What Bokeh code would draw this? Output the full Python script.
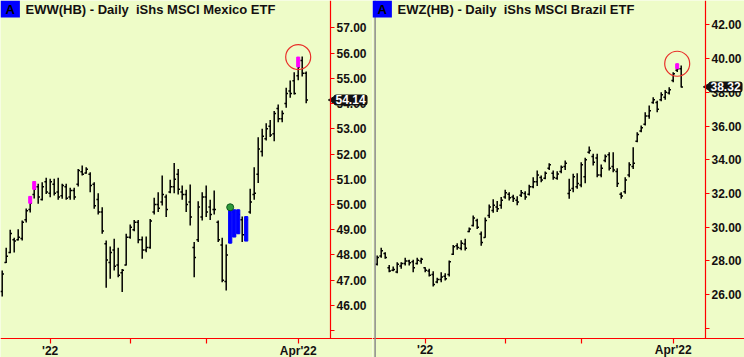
import math
from bokeh.plotting import figure
from bokeh.models import Range1d, FixedTicker, NumeralTickFormatter, Label, Span
from bokeh.layouts import row
from bokeh.embed import file_html
from bokeh.resources import INLINE

# ---------------- data ----------------
x_tick_positions = [12, 32, 51, 74]
x_tick_labels = ["'22", "", "", "Apr'22"]

eww_title = "EWW(HB) - Daily \u00a0iShs MSCI Mexico ETF"
eww_open = [46.55, 47.70, 48.10, 48.60, 48.60, 48.65, 49.40, 49.80, 50.40, 50.70,
            50.20, 50.90, 50.45, 50.80, 50.50, 50.35, 50.70, 50.30, 50.55, 50.80,
            51.30, 51.25, 51.20, 50.80, 50.20, 49.70, 48.45, 47.70, 48.20, 47.60,
            47.30, 47.60, 48.70, 49.00, 49.30, 48.60, 48.20, 48.30, 49.70, 50.00,
            50.10, 50.30, 50.50, 50.70, 51.20, 50.50, 50.40, 50.10, 48.30, 48.60,
            49.50, 50.30, 49.90, 49.80, 49.30, 48.40, 46.95, 48.50, 49.70, 48.90,
            49.40, 48.60, 49.70, 50.40, 51.20, 52.10, 52.60, 53.10, 52.80, 53.80,
            53.40, 54.00, 54.50, 54.90, 55.10, 55.70, 55.20]
eww_high = [47.39, 48.29, 49.00, 48.68, 49.02, 49.37, 49.84, 50.32, 50.91, 50.82,
            50.88, 51.06, 51.02, 51.02, 51.06, 50.82, 50.82, 50.66, 50.66, 51.41,
            51.54, 51.48, 51.28, 50.88, 50.45, 49.89, 48.57, 48.34, 48.64, 48.29,
            47.45, 48.84, 49.21, 49.39, 49.39, 48.73, 48.73, 49.43, 50.27, 50.49,
            51.15, 50.40, 50.98, 51.64, 51.41, 50.75, 50.58, 50.79, 48.51, 50.13,
            50.49, 50.75, 50.19, 50.55, 49.37, 48.68, 48.42, 49.89, 49.79, 49.79,
            49.52, 49.52, 50.62, 51.48, 52.66, 53.00, 53.22, 53.35, 53.70, 53.96,
            53.72, 54.62, 54.91, 55.24, 55.84, 55.86, 55.27]
eww_low = [46.36, 47.68, 48.07, 48.10, 48.57, 48.57, 49.29, 49.68, 50.24, 50.03,
           50.16, 50.42, 50.29, 50.36, 50.19, 50.23, 50.19, 50.19, 50.19, 50.71,
           51.15, 51.22, 50.49, 49.83, 49.60, 48.84, 46.70, 47.06, 47.39, 47.12,
           46.53, 47.58, 48.64, 48.94, 48.47, 47.85, 48.11, 48.25, 49.60, 49.70,
           49.96, 49.50, 50.45, 50.45, 50.40, 50.19, 49.70, 49.17, 47.12, 48.51,
           49.37, 49.50, 49.39, 49.60, 48.51, 46.92, 46.59, 48.47, 48.71, 48.84,
           48.51, 48.55, 49.63, 50.19, 50.85, 51.90, 52.53, 52.67, 52.51, 53.26,
           53.26, 53.83, 54.23, 54.36, 54.92, 55.07, 54.01]
eww_close = [47.25, 47.95, 48.85, 48.55, 48.70, 49.30, 49.75, 50.05, 50.60, 50.30,
             50.70, 50.50, 50.90, 50.45, 50.30, 50.75, 50.25, 50.55, 50.30, 51.35,
             51.20, 51.40, 50.75, 49.95, 49.70, 48.95, 47.80, 48.10, 47.55, 47.20,
             47.40, 48.70, 49.10, 49.30, 48.60, 48.20, 48.30, 49.35, 50.00, 49.85,
             50.40, 49.80, 50.70, 51.00, 50.60, 50.40, 50.00, 49.50, 47.90, 49.90,
             50.30, 49.70, 49.60, 49.80, 48.60, 47.00, 48.00, 49.80, 48.80, 49.60,
             48.80, 49.40, 50.10, 50.45, 52.20, 52.70, 53.00, 52.75, 53.60, 53.40,
             53.60, 54.40, 54.40, 54.40, 55.45, 55.20, 54.14]
eww_blue_bars = [57, 58, 59, 61]
eww_magenta_bars = [7, 8, 74]
eww_dot_bar = 57
eww_circle_bar = 74
eww_yticks = [45, 46, 47, 48, 49, 50, 51, 52, 53, 54, 55, 56, 57]

ewz_title = "EWZ(HB) - Daily \u00a0iShs MSCI Brazil ETF"
ewz_open = [27.80, 28.30, 28.45, 27.60, 27.45, 27.35, 27.70, 27.85, 28.00, 27.95,
            27.85, 28.00, 27.60, 27.40, 27.20, 26.75, 26.90, 27.10, 27.20, 28.40,
            28.90, 28.75, 29.00, 29.75, 30.10, 30.40, 29.60, 29.40, 30.70, 31.00,
            31.20, 31.30, 31.80, 31.95, 31.80, 31.60, 31.90, 32.00, 31.95, 32.40,
            32.70, 32.95, 32.90, 33.50, 33.20, 32.90, 33.30, 33.60, 32.00, 32.30,
            32.40, 32.50, 33.00, 34.45, 34.20, 34.10, 33.10, 33.95, 34.30, 33.60,
            33.30, 31.95, 32.10, 33.10, 33.60, 35.10, 35.70, 36.10, 36.60, 37.40,
            37.40, 37.55, 37.70, 37.95, 38.70, 39.30, 39.40]
ewz_high = [28.33, 28.78, 28.52, 27.77, 27.67, 27.93, 27.93, 28.19, 28.07, 28.07,
            28.19, 28.19, 27.63, 27.54, 27.39, 27.00, 27.33, 27.28, 28.03, 28.95,
            29.05, 29.23, 29.32, 29.99, 30.70, 30.50, 29.75, 30.58, 31.35, 31.66,
            31.55, 31.79, 32.22, 32.08, 31.93, 31.84, 32.21, 32.14, 32.52, 32.97,
            33.36, 33.07, 33.31, 33.80, 33.36, 33.32, 33.66, 33.95, 32.87, 33.17,
            33.20, 33.86, 34.12, 34.79, 34.35, 34.35, 33.72, 34.31, 34.45, 34.45,
            33.50, 32.08, 32.97, 33.86, 34.74, 35.63, 36.03, 36.82, 37.21, 37.70,
            37.50, 38.00, 38.14, 38.30, 39.19, 39.69, 39.59]
ewz_low = [27.73, 28.19, 28.13, 27.33, 27.39, 27.28, 27.54, 27.73, 27.73, 27.33,
           27.79, 27.83, 27.33, 27.08, 26.49, 26.68, 26.74, 26.84, 27.08, 28.36,
           28.66, 28.64, 28.62, 29.70, 30.05, 29.90, 28.91, 29.38, 30.55, 30.86,
           30.90, 31.10, 31.69, 31.59, 31.49, 31.30, 31.79, 31.63, 31.88, 32.31,
           32.45, 32.67, 32.84, 33.40, 32.81, 32.81, 33.20, 33.40, 31.69, 32.08,
           32.28, 32.37, 32.61, 34.35, 33.66, 32.97, 32.97, 33.85, 33.36, 33.26,
           32.39, 31.69, 31.98, 32.97, 33.46, 35.04, 35.63, 36.03, 36.43, 37.32,
           36.82, 37.47, 37.55, 37.87, 38.60, 39.20, 38.28]
ewz_close = [28.20, 28.60, 28.20, 27.40, 27.50, 27.80, 27.85, 28.00, 27.90, 27.60,
             28.05, 28.10, 27.45, 27.15, 26.60, 26.90, 27.05, 26.95, 27.95, 28.85,
             28.80, 29.05, 28.75, 29.90, 30.55, 30.00, 29.10, 30.40, 31.20, 31.30,
             31.10, 31.60, 32.05, 31.75, 31.70, 31.50, 32.05, 31.80, 32.40, 32.70,
             33.10, 32.80, 33.20, 33.70, 32.95, 33.15, 33.55, 33.80, 32.20, 33.00,
             32.60, 33.70, 34.00, 34.55, 33.85, 33.10, 33.50, 34.20, 33.50, 33.40,
             32.60, 31.85, 32.80, 33.70, 33.80, 35.50, 35.90, 36.60, 36.90, 37.55,
             37.00, 37.85, 38.00, 38.15, 39.10, 39.40, 38.32]
ewz_blue_bars = []
ewz_magenta_bars = [75]
ewz_dot_bar = None
ewz_circle_bar = 75
ewz_yticks = [24, 26, 28, 30, 32, 34, 36, 38, 40, 42]

# ---------------- style ----------------
BG = "#EEFCC8"
RED = "#FF0000"
TXT = "#141010"
FONT = "Liberation Sans"
BARS_SPAN = 93.0      # bars visible across a panel
AXIS_POS = 82.08      # bar-units where the price axis sits


def make_panel(title, o, h, l, c, x_start, y_bottom, y_axis, y_hi, yticks,
               hidden_tick, blue_bars, magenta_bars, dot_bar, circle_bar,
               separator):
    n = len(c)
    idx = list(range(n))
    p = figure(width=372, height=357,
               x_range=Range1d(x_start, x_start + BARS_SPAN),
               y_range=Range1d(y_bottom, y_hi),
               y_axis_location="right", toolbar_location=None,
               output_backend="svg",
               min_border_left=0, min_border_right=0, min_border_top=0,
               min_border_bottom=0,
               background_fill_color=BG, border_fill_color=BG,
               outline_line_color=None)
    p.grid.visible = False

    # axes (drawn inside the frame, like the original terminal chart)
    p.yaxis.fixed_location = AXIS_POS
    p.yaxis.bounds = (y_axis, y_hi)
    p.xaxis.fixed_location = y_axis
    p.yaxis.ticker = FixedTicker(ticks=yticks)
    p.yaxis.formatter = NumeralTickFormatter(format="0.00")
    p.yaxis.major_label_overrides = {hidden_tick: ""}
    p.xaxis.ticker = FixedTicker(ticks=x_tick_positions)
    p.xaxis.major_label_overrides = dict(zip(x_tick_positions, x_tick_labels))
    for ax in (p.xaxis, p.yaxis):
        ax.axis_line_color = RED
        ax.axis_line_width = 1.2
        ax.major_tick_line_color = RED
        ax.major_tick_line_width = 1.2
        ax.minor_tick_line_color = None
        ax.major_tick_in = 0
        ax.major_label_text_font = FONT
        ax.major_label_text_font_style = "bold"
        ax.major_label_text_font_size = "12px"
        ax.major_label_text_color = TXT
    p.yaxis.major_tick_out = 4
    p.yaxis.major_label_standoff = 2
    p.xaxis.major_tick_out = 5
    p.xaxis.major_label_standoff = 0

    if separator:
        p.add_layout(Span(location=x_start + 0.65, dimension="height",
                          line_color="#8a8a8a", line_width=1.5))

    # OHLC bars
    p.segment(x0=idx, y0=l, x1=idx, y1=h, line_color="black", line_width=1.5)
    p.segment(x0=[i - 0.45 for i in idx], y0=o, x1=idx, y1=o,
              line_color="black", line_width=1.5)
    p.segment(x0=idx, y0=c, x1=[i + 0.45 for i in idx], y1=c,
              line_color="black", line_width=1.5)

    if blue_bars:
        p.vbar(x=blue_bars, top=[h[i] for i in blue_bars],
               bottom=[l[i] for i in blue_bars], width=0.8,
               fill_color="#0000FF", line_color="#0000FF")
    if magenta_bars:
        p.vbar(x=magenta_bars, top=[h[i] for i in magenta_bars],
               bottom=[max(o[i], c[i]) for i in magenta_bars], width=0.75,
               fill_color="#FF00FF", line_color="#FF00FF")
    if dot_bar is not None:
        p.scatter(x=[dot_bar], y=[h[dot_bar]], size=7, marker="circle",
                  fill_color="#2f9a3a", line_color="#0c5a20", line_width=1)
    p.scatter(x=[circle_bar], y=[h[circle_bar]], size=25, marker="circle",
              fill_alpha=0, line_color="#E8302A", line_width=1.2)

    # title
    p.add_layout(Label(x=x_start, y=y_hi, x_offset=0, y_offset=0,
                       text="A", text_baseline="top", text_align="left",
                       text_font=FONT, text_font_style="bold",
                       text_font_size="13px", text_color="black",
                       background_fill_color="#0000FF", padding=(5, 1)))
    p.add_layout(Label(x=x_start, y=y_hi, x_offset=25, y_offset=-1,
                       text=title, text_baseline="top", text_align="left",
                       text_font=FONT, text_font_style="bold",
                       text_font_size="13px", text_color=TXT))

    # last price tag
    last = c[-1]
    p.scatter(x=[AXIS_POS + 0.6], y=[last], marker="triangle", angle=math.pi / 2,
              size=8, fill_color="#111111", line_color="#111111")
    p.add_layout(Label(x=AXIS_POS, y=last, x_offset=3, y_offset=0,
                       text=f"{last:.2f}", text_baseline="middle",
                       text_align="left", text_font=FONT,
                       text_font_style="bold", text_font_size="12px",
                       text_color="white", background_fill_color="#111111",
                       padding=(2, 1), border_radius=3))
    return p


left = make_panel(eww_title, eww_open, eww_high, eww_low, eww_close,
                  -0.425, 43.94, 44.69, 58.08, eww_yticks, 45,
                  eww_blue_bars, eww_magenta_bars, eww_dot_bar, eww_circle_bar,
                  False)
right = make_panel(ewz_title, ewz_open, ewz_high, ewz_low, ewz_close,
                   -1.175, 22.28, 23.41, 43.44, ewz_yticks, 24,
                   ewz_blue_bars, ewz_magenta_bars, ewz_dot_bar, ewz_circle_bar,
                   True)

layout = row(left, right)
open("out.html", "w").write(file_html(layout, INLINE))
